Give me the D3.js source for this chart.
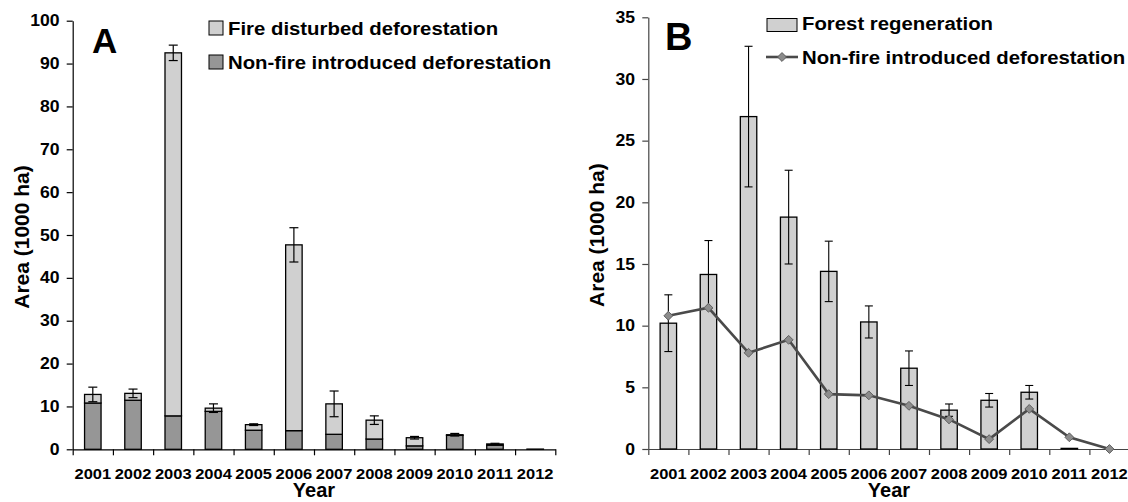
<!DOCTYPE html>
<html>
<head>
<meta charset="utf-8">
<script src="https://cdn.jsdelivr.net/npm/d3@7"></script>
<style>
  html, body { margin: 0; padding: 0; background: #fff; }
  svg text { font-family: "Liberation Sans", Arial, sans-serif; font-weight: bold; fill: #000; }
</style>
</head>
<body>
<svg id="chart" width="1128" height="502"></svg>
<script>
// Years shared by both panels
const years = ["2001","2002","2003","2004","2005","2006","2007","2008","2009","2010","2011","2012"];

// Panel A: stacked deforestation areas (1000 ha)
const nonFireDeforestation = [10.8, 11.45, 7.8, 8.85, 4.45, 4.35, 3.5, 2.4, 0.8, 3.25, 0.95, 0];
const fireDeforestation    = [2.0, 1.6, 84.7, 0.75, 1.3, 43.35, 7.1, 4.4, 1.9, 0.15, 0.3, 0.05];
const totalError           = [1.7, 1.0, 1.8, 1.0, 0.2, 4.0, 3.0, 1.0, 0.3, 0.3, 0.15, 0];
const ticksA = [0,10,20,30,40,50,60,70,80,90,100];

// Panel B: forest regeneration (bars) and non-fire deforestation (line)
const forestRegeneration = [10.2, 14.15, 26.95, 18.8, 14.4, 10.3, 6.55, 3.15, 3.95, 4.6, 0.05, 0];
const regenerationError  = [2.3, 2.75, 5.7, 3.8, 2.45, 1.3, 1.4, 0.5, 0.55, 0.55, 0, 0];
const ticksB = [0,5,10,15,20,25,30,35];

const svg = d3.select("#chart");
const LIGHT = "#d0d0d0", DARK = "#969696";
const WIDEN = 1.1; // horizontal widening of the bold label face

// horizontal text with a slightly widened face
function label(parent, x, y, size, str, anchor) {
  return parent.append("text")
    .attr("transform", `translate(${x},${y}) scale(${WIDEN},1)`)
    .attr("text-anchor", anchor || "start")
    .attr("font-size", size).text(str);
}

function panel(opts) {
  const g = svg.append("g");
  const x = d3.scaleBand().domain(years).range([opts.x0, opts.x1]).padding(0);
  const y = d3.scaleLinear().domain([0, opts.ymax]).range([opts.yb, opts.yt]);
  const edges = d3.scaleLinear().domain([0, years.length]).range([opts.x0, opts.x1]);

  // x axis line and boundary ticks
  const xa = g.append("g").attr("transform", `translate(0,${opts.yb})`)
    .call(d3.axisBottom(edges).tickValues(d3.range(0, years.length + 1)).tickFormat("").tickSize(6).tickSizeOuter(0));
  xa.selectAll("path,line").attr("stroke", opts.axisColor).attr("stroke-width", 1.2);

  // category labels
  const xl = g.append("g").attr("transform", `translate(0,${opts.yb})`)
    .call(d3.axisBottom(x).tickSize(0).tickPadding(19));
  xl.select(".domain").remove();
  xl.selectAll("text").attr("font-size", 15).attr("font-family", null).style("font-weight", "bold")
    .attr("transform", `scale(${WIDEN},1)`);

  // y axis
  const ya = g.append("g").attr("transform", `translate(${opts.x0},0)`)
    .call(d3.axisLeft(y).tickValues(opts.ticks).tickSize(6).tickSizeOuter(0).tickPadding(6));
  ya.selectAll("path,line").attr("stroke", opts.axisColor).attr("stroke-width", 1.2);
  ya.selectAll("text").attr("font-size", 16).attr("font-family", null).style("font-weight", "bold")
    .attr("transform", `scale(${WIDEN},1)`);

  // axis titles
  g.append("text")
    .attr("transform", `translate(${opts.titleX},${(opts.yt + opts.yb) / 2 + 2}) rotate(-90)`)
    .attr("text-anchor", "middle").attr("font-size", 21).text("Area (1000 ha)");
  g.append("text").attr("x", (opts.x0 + opts.x1) / 2).attr("y", 497)
    .attr("text-anchor", "middle").attr("font-size", 20).text("Year");

  return { g, x, y };
}

// ---------- Panel A ----------
const A = panel({ x0: 72.7, x1: 555.3, yt: 20.7, yb: 449.3, ymax: 100, ticks: ticksA, axisColor: "#000", titleX: 28.5 });
const bwA = A.x.bandwidth() * 0.41;
const stackA = years.map((yr, i) => ({ yr, nf: nonFireDeforestation[i], f: fireDeforestation[i], err: totalError[i] }));

stackA.forEach(d => {
  const cx = A.x(d.yr) + A.x.bandwidth() / 2;
  const total = d.nf + d.f;
  if (d.nf > 0) {
    A.g.append("rect").attr("x", cx - bwA / 2).attr("width", bwA)
      .attr("y", A.y(d.nf)).attr("height", A.y(0) - A.y(d.nf))
      .attr("fill", DARK).attr("stroke", "#000").attr("stroke-width", 1.3);
  }
  if (d.f > 0) {
    A.g.append("rect").attr("x", cx - bwA / 2).attr("width", bwA)
      .attr("y", A.y(total)).attr("height", A.y(d.nf) - A.y(total))
      .attr("fill", LIGHT).attr("stroke", "#000").attr("stroke-width", 1.3);
  }
  if (d.err > 0) {
    const e = A.g.append("g").attr("stroke", "#000").attr("stroke-width", 1.2);
    e.append("line").attr("x1", cx).attr("x2", cx).attr("y1", A.y(total + d.err)).attr("y2", A.y(total - d.err));
    [total + d.err, total - d.err].forEach(v =>
      e.append("line").attr("x1", cx - 4.5).attr("x2", cx + 4.5).attr("y1", A.y(v)).attr("y2", A.y(v)));
  }
});

A.g.append("text").attr("x", 92).attr("y", 52.5).attr("font-size", 35).text("A");

// legend A
const legA = [{ label: "Fire disturbed deforestation", fill: LIGHT, y: 21 },
              { label: "Non-fire introduced deforestation", fill: DARK, y: 55 }];
legA.forEach(l => {
  A.g.append("rect").attr("x", 209).attr("y", l.y).attr("width", 14).attr("height", 14)
    .attr("fill", l.fill).attr("stroke", "#000").attr("stroke-width", 1);
  label(A.g, 228, l.y + 14, 18.5, l.label);
});

// ---------- Panel B ----------
const B = panel({ x0: 648.3, x1: 1129.5, yt: 17.3, yb: 449, ymax: 35, ticks: ticksB, axisColor: "#444", titleX: 604 });
const bwB = B.x.bandwidth() * 0.41;

years.forEach((yr, i) => {
  const cx = B.x(yr) + B.x.bandwidth() / 2;
  const v = forestRegeneration[i], err = regenerationError[i];
  if (v > 0) {
    B.g.append("rect").attr("x", cx - bwB / 2).attr("width", bwB)
      .attr("y", B.y(v)).attr("height", B.y(0) - B.y(v))
      .attr("fill", LIGHT).attr("stroke", "#000").attr("stroke-width", 1.3);
  }
  if (err > 0) {
    const e = B.g.append("g").attr("stroke", "#000").attr("stroke-width", 1.1);
    e.append("line").attr("x1", cx).attr("x2", cx).attr("y1", B.y(v + err)).attr("y2", B.y(v - err));
    [v + err, v - err].forEach(t =>
      e.append("line").attr("x1", cx - 4).attr("x2", cx + 4).attr("y1", B.y(t)).attr("y2", B.y(t)));
  }
});

const lineB = d3.line()
  .x((d, i) => B.x(years[i]) + B.x.bandwidth() / 2)
  .y(d => B.y(d));
B.g.append("path").datum(nonFireDeforestation).attr("d", lineB)
  .attr("fill", "none").attr("stroke", "#4a4a4a").attr("stroke-width", 2.6);

const diamond = d3.symbol().type(d3.symbolDiamond2).size(50);
nonFireDeforestation.forEach((v, i) => {
  B.g.append("path").attr("d", diamond)
    .attr("transform", `translate(${B.x(years[i]) + B.x.bandwidth() / 2},${B.y(v)})`)
    .attr("fill", "#8c8c8c").attr("stroke", "#5e5e5e").attr("stroke-width", 1);
});

B.g.append("text").attr("x", 665).attr("y", 49.5).attr("font-size", 38).text("B");

// legend B
B.g.append("rect").attr("x", 767).attr("y", 18.5).attr("width", 30).attr("height", 13)
  .attr("fill", LIGHT).attr("stroke", "#000").attr("stroke-width", 1);
label(B.g, 802, 30, 18.5, "Forest regeneration");
B.g.append("line").attr("x1", 766).attr("x2", 798).attr("y1", 57).attr("y2", 57)
  .attr("stroke", "#4a4a4a").attr("stroke-width", 2.6);
B.g.append("path").attr("d", diamond).attr("transform", "translate(782,57)")
  .attr("fill", "#8c8c8c").attr("stroke", "#5e5e5e").attr("stroke-width", 1);
label(B.g, 802, 64, 18.5, "Non-fire introduced deforestation");
</script>
</body>
</html>
